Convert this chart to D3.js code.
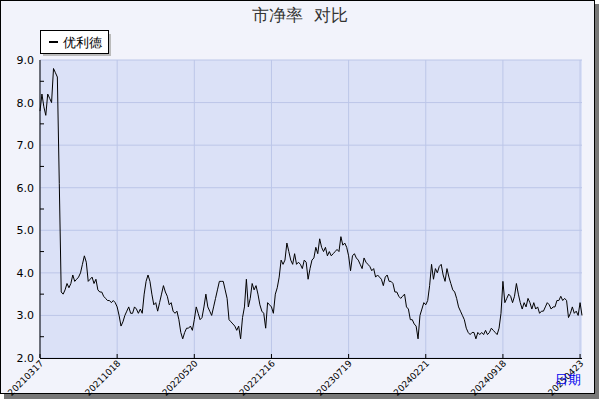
<!DOCTYPE html>
<html>
  <head>
    <meta charset="utf-8">
    <script src="https://d3js.org/d3.v7.min.js"></script>
    <style>body{margin:0;} text{font-family:"DejaVu Sans",sans-serif;}</style>
  </head>
  <body>
    <svg id="chart" width="600" height="400"></svg>
    <script>
      var seriesName = "优利德";
      var tickDates = ["20210317","20211018","20220520","20221216","20230719","20240221","20240918","20250423"];
      var yTicks = [2.0,3.0,4.0,5.0,6.0,7.0,8.0,9.0];
      var pb = [
        7.8,8.2,7.9,7.7,8.2,8.1,8.0,8.8,8.7,8.6,6.1,
        3.55,3.5,3.6,3.75,3.65,3.75,3.95,3.8,3.85,3.9,4.0,4.2,4.4,4.25,3.8,3.85,3.9,3.75,3.85,3.6,
        3.55,3.55,3.45,3.4,3.35,3.35,3.3,3.35,3.3,3.2,3.0,2.75,2.85,3.0,3.1,3.2,3.05,3.05,3.2,3.15,
        3.05,3.15,3.05,3.5,3.8,3.95,3.8,3.5,3.25,3.3,3.1,3.3,3.5,3.7,3.55,3.45,3.25,3.3,3.1,3.05,
        3.1,2.9,2.6,2.45,2.6,2.7,2.7,2.75,2.65,2.9,3.2,3.05,2.9,2.95,3.2,3.5,3.2,3.1,3.0,3.2,
        3.4,3.6,3.8,3.8,3.8,3.6,3.4,2.9,2.85,2.8,2.75,2.65,2.75,2.45,2.95,3.2,3.85,3.2,3.4,3.75,
        3.6,3.7,3.5,3.25,3.1,3.05,2.7,3.3,3.25,3.2,3.05,3.5,3.65,3.9,4.3,4.2,4.3,4.7,4.5,4.3,
        4.2,4.45,4.2,4.25,
        4.2,4.1,4.3,4.25,3.85,4.1, 4.3,4.35,4.6,4.45,4.8,4.6, 4.5,4.6,4.4,4.5,4.4,4.45,
        4.5,4.55,4.5,4.85,4.65,4.7, 4.6,4.4,4.05,4.4,4.45,4.35, 4.3,4.2,4.1,4.35,4.25,4.2,
        4.15,4.05,4.1,3.9,3.95,3.9, 3.85,3.7,3.9,3.95,3.8,3.8, 3.75,3.55,3.55,3.45,3.4,3.45,
        3.5,3.2,3.15,2.9,2.9,2.8, 2.75,2.45,3.0,3.15,3.3,3.25, 3.35,3.7,4.2,3.85,4.1,4.0,
        4.15,4.2,3.95,3.8,4.1,3.9, 3.75,3.6,3.55,3.4,3.2,3.1, 3.0,2.9,2.7,2.6,2.55,2.6,
        2.6,2.45,2.6,2.55,2.6,2.55, 2.65,2.55,2.6,2.7,2.65,2.6, 2.55,2.7,3.05,3.8,3.3,3.4,
        3.5,3.45,3.3,3.45,3.75,3.5, 3.3,3.15,3.3,3.2,3.4,3.3, 3.15,3.3,3.15,3.2,3.05,3.1,
        3.1,3.2,3.3,3.25,3.15,3.2, 3.2,3.35,3.35,3.45,3.35,3.4, 3.35,2.95,3.05,3.2,3.05,3.1,
        3.0,3.3,3.0
      ];

      var svg = d3.select("#chart");
      // outer frame with shadow
      svg.append("rect").attr("x",4).attr("y",4).attr("width",595).attr("height",395).attr("fill","#777");
      svg.append("rect").attr("x",0.5).attr("y",0.5).attr("width",594).attr("height",393)
        .attr("fill","#f2f3fb").attr("stroke","#000");

      var L = 40, R = 582, T = 60, B = 358;
      var x = d3.scaleLinear().domain([0, pb.length - 1]).range([L, R]);
      var y = d3.scaleLinear().domain([2, 9]).range([B, T]);

      svg.append("rect").attr("x",L).attr("y",T).attr("width",R-L).attr("height",B-T).attr("fill","#dbe1f7");

      var g = svg.append("g");
      g.selectAll(".hg").data(yTicks).enter().append("line")
        .attr("x1",L).attr("x2",R).attr("y1",d=>y(d)).attr("y2",d=>y(d))
        .attr("stroke","#bcc6e8").attr("stroke-width",1);
      g.selectAll(".vg").data(tickDates).enter().append("line")
        .attr("x1",(d,i)=>x(i*40)).attr("x2",(d,i)=>x(i*40)).attr("y1",T).attr("y2",B)
        .attr("stroke","#bcc6e8").attr("stroke-width",1);

      // y axis
      var ya = svg.append("g").attr("transform","translate("+L+",0)")
        .call(d3.axisLeft(y).tickValues(yTicks).tickFormat(d3.format(".1f")).tickSize(0).tickPadding(6));
      ya.select(".domain").remove();
      ya.selectAll("text").attr("font-size",11).attr("font-family","DejaVu Sans Mono").attr("fill","#000");
      svg.append("g").selectAll("line").data(d3.range(2, 9.01, 0.5)).enter().append("line")
        .attr("x1",L).attr("x2",d=>L+(d%1===0?0:4)).attr("y1",d=>y(d)).attr("y2",d=>y(d)).attr("stroke","#000");
      svg.append("line").attr("x1",L).attr("x2",L).attr("y1",T).attr("y2",B).attr("stroke","#000");
      svg.append("line").attr("x1",L).attr("x2",R).attr("y1",B+0.5).attr("y2",B+0.5).attr("stroke","#000");

      // x ticks and labels
      var xa = svg.append("g");
      xa.selectAll("line").data(tickDates).enter().append("line")
        .attr("x1",(d,i)=>x(i*40)).attr("x2",(d,i)=>x(i*40)).attr("y1",B-4).attr("y2",B).attr("stroke","#000");
      xa.selectAll("text").data(tickDates).enter().append("text")
        .attr("transform",(d,i)=>"translate("+(x(i*40)+4)+","+(B+6)+") rotate(-45)")
        .attr("text-anchor","end").attr("font-size",9).text(d=>d);
      svg.append("text").attr("x",581).attr("y",384).attr("text-anchor","end")
        .attr("fill","#0000ee").attr("font-size",13).text("日期");

      // line
      var line = d3.line().x((d,i)=>x(i)).y(d=>y(d));
      svg.append("path").attr("d",line(pb)).attr("fill","none").attr("stroke","#000").attr("stroke-width",1);

      // title
      svg.append("text").attr("x",300).attr("y",21).attr("text-anchor","middle").style("white-space","pre")
        .attr("font-size",17).attr("fill","#333").text("市净率  对比");

      // legend
      svg.append("rect").attr("x",43).attr("y",34).attr("width",68).attr("height",22).attr("fill","#bbb");
      svg.append("rect").attr("x",40.5).attr("y",30.5).attr("width",68).attr("height",23).attr("fill","#fff").attr("stroke","#000");
      svg.append("line").attr("x1",49).attr("x2",58).attr("y1",42).attr("y2",42).attr("stroke","#000").attr("stroke-width",2);
      svg.append("text").attr("x",63).attr("y",47).attr("font-size",13).text(seriesName);
    </script>
  </body>
</html>
